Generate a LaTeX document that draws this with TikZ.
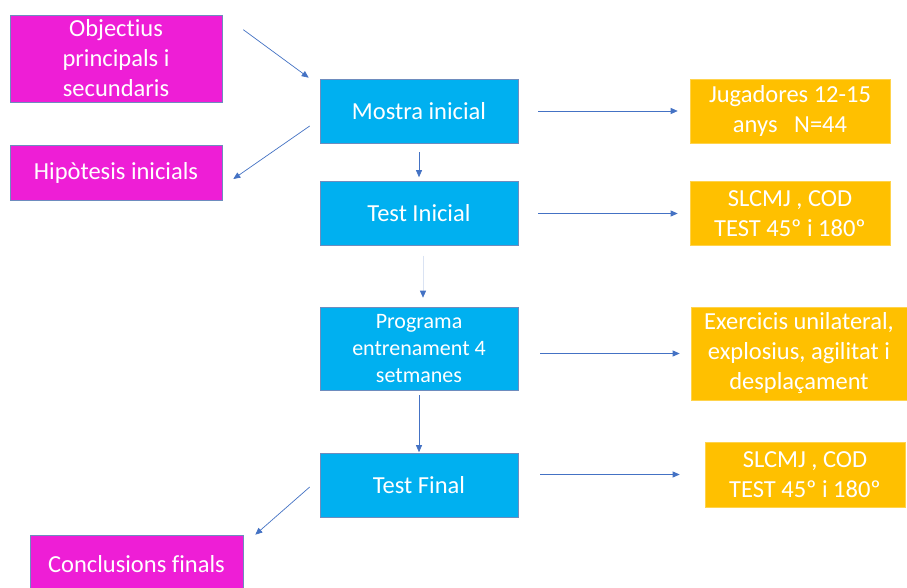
\documentclass[tikz,border=0pt]{standalone}
\usepackage{fontspec}
\setmainfont{Carlito}[Ligatures=NoCommon]
\usepackage{tikz}
\usetikzlibrary{arrows.meta, positioning, calc}
\definecolor{goalcolor}{RGB}{238, 30, 214}
\definecolor{stagecolor}{RGB}{0, 176, 240}
\definecolor{infocolor}{RGB}{255, 192, 0}
\definecolor{linkcolor}{RGB}{68, 114, 196}
\definecolor{fadecolor}{RGB}{218, 227, 243}
\definecolor{edgecolor}{RGB}{110, 140, 190}

\begin{document}
\begin{tikzpicture}[
    x=1pt, y=-1pt,
    box/.style={draw=edgecolor, line width=0.6pt, text=white, align=center, inner sep=0pt, font=\fontsize{24.5}{30}\selectfont},
    goal/.style={box, fill=goalcolor, minimum width=212pt},
    stage/.style={box, fill=stagecolor, minimum width=198pt, minimum height=64pt},
    info/.style={box, fill=infocolor, draw=infocolor!70!white, minimum width=200pt, minimum height=64pt},
    link/.style={draw=linkcolor, line width=0.7pt, -{Triangle[length=7pt, width=6pt]}}
]
    \useasboundingbox[fill=white] (0,0) rectangle (907,588);
    \clip (0,0) rectangle (907,588);

    % Left column
    \node[goal, minimum height=87pt] (obj) at (116, 58.5) {Objectius\\principals i\\secundaris};
    \node[goal, minimum height=55pt] (hip) at (116, 172.5) {Hipòtesis inicials};
    \node[goal, minimum width=213pt, minimum height=58pt] (conc) at (136.5, 564) {Conclusions finals};

    % Main steps
    \node[stage] (mostra) at (419, 111) {Mostra inicial};
    \node[stage] (test1) at (419, 213.5) {Test Inicial};
    \node[stage, minimum height=83pt, font=\fontsize{22}{27}\selectfont] (prog) at (419, 348.5) {Programa\\entrenament 4\\setmanes};
    \node[stage] (testF) at (419, 485) {Test Final};

    % Details
    \node[info] (jug) at (790, 111) {Jugadores 12-15\\anys\ \ \ N=44};
    \node[info] (slc1) at (790, 213.5) {SLCMJ , COD\\TEST 45º i 180º};
    \node[info, minimum width=216pt, minimum height=93pt] (exer) at (799, 353.5) {Exercicis unilateral,\\explosius, agilitat i\\desplaçament};
    \node[info, minimum height=65pt] (slc2) at (805, 474.5) {SLCMJ , COD\\TEST 45º i 180º};

    % Connections
    \draw[link] ($(obj.north east)+(21,15)$) -- ($(mostra.north west)+(-11,-1)$);
    \draw[link] ($(mostra.west)+(-10,15)$) -- ($(hip.east)+(11,6.5)$);
    \draw[link, shorten <=9pt, shorten >=4pt] (mostra) -- (test1);
    \draw[link, draw=fadecolor, -{Triangle[length=7pt, width=6pt, color=linkcolor]}, shorten <=10pt, shorten >=9pt] ($(test1.south)+(4,0)$) -- ($(prog.north)+(4,0)$);
    \draw[link, shorten <=5pt, shorten >=0.5pt] (prog) -- (testF);
    \draw[link] ($(testF.west)+(-10,2)$) -- ($(conc.north east)+(12,0)$);

    \draw[link, shorten <=20pt, shorten >=12pt] (mostra) -- (jug);
    \draw[link, shorten <=20pt, shorten >=12pt] (test1) -- (slc1);
    \draw[link, shorten <=22pt, shorten >=11pt] (prog.east |- exer.west) -- (exer.west);
    \draw[link, shorten <=22pt, shorten >=25pt] (testF.east |- slc2.west) -- (slc2.west);

\end{tikzpicture}
\end{document}
